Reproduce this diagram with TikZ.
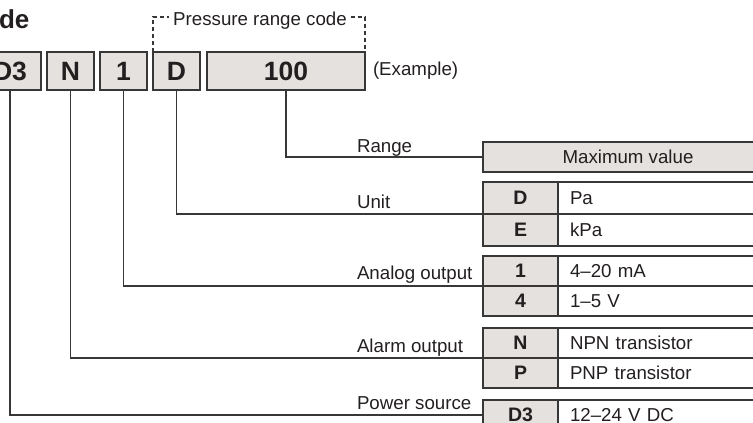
\documentclass[tikz,border=0pt]{standalone}
\usepackage{fontspec}
\setmainfont{Liberation Sans}
\usetikzlibrary{positioning}
\definecolor{boxgray}{RGB}{229,225,222}
\definecolor{linegray}{RGB}{55,55,55}
\definecolor{txtgray}{RGB}{35,31,32}

\begin{document}
\begin{tikzpicture}[x=1pt, y=-1pt,
  every node/.style={text=txtgray, outer sep=0pt},
  cbox/.style={draw=linegray, fill=boxgray, line width=1.3pt, minimum height=38pt,
               inner sep=0pt, font=\fontsize{26.5}{26.5}\selectfont\bfseries},
  code/.style={draw=linegray, fill=boxgray, line width=1.3pt, minimum width=75pt,
               inner sep=0pt, font=\fontsize{19.5}{21}\selectfont\bfseries},
  desc/.style={draw=linegray, fill=white, line width=1.3pt, text width=191pt,
               inner xsep=12pt, inner ysep=0pt, align=left, font=\fontsize{18.7}{21}\selectfont},
  lbl/.style={anchor=base west, inner sep=0pt, font=\fontsize{18.7}{21}\selectfont},
  conn/.style={draw=linegray, line width=1.2pt},
  brk/.style={draw=linegray, line width=1.1pt, dash pattern=on 4pt off 3pt}]

\useasboundingbox (0,0) rectangle (753,423);
\clip (0,0) rectangle (753,423);

%% --- title ---
\node[anchor=base west, inner sep=0pt, font=\fontsize{26}{26}\selectfont\bfseries] (title) at (-1,28) {de};

%% --- code boxes ---
\node[cbox, minimum width=62pt]  (cD3)  at (10,71)    {D3};
\node[cbox, minimum width=47pt]  (cN)   at (70.5,71)  {N};
\node[cbox, minimum width=47pt]  (c1)   at (123.5,71) {1};
\node[cbox, minimum width=47pt]  (cD)   at (176.5,71) {D};
\node[cbox, minimum width=158pt] (c100) at (286,71)   {100};
\node[right=8pt of c100, inner sep=0pt, font=\fontsize{18.7}{21}\selectfont] (ex) {(Example)};

%% --- pressure range bracket ---
\node[anchor=base, inner xsep=4pt, inner ysep=0pt, font=\fontsize{18.7}{21}\selectfont] (prc) at (260,25) {Pressure range code};
\coordinate (brtop) at (0,17);
\draw[brk] (cD.north west) |- (prc.west |- brtop);
\draw[brk] (prc.east |- brtop) -| (c100.north east);

%% --- range ---
\node[draw=linegray, fill=boxgray, line width=1.3pt, minimum width=290pt, minimum height=30pt,
      anchor=north west, font=\fontsize{18.7}{21}\selectfont] (rng) at (483,142) {Maximum value};

%% --- unit ---
\node[code, minimum height=32pt, anchor=north west] (uD) at (483,182) {D};
\node[desc, minimum height=32pt, right=0pt of uD] (uDt) {Pa};
\node[code, minimum height=32pt, below=0pt of uD] (uE) {E};
\node[desc, minimum height=32pt, right=0pt of uE] (uEt) {kPa};

%% --- analog output ---
\node[code, minimum height=30pt, anchor=north west] (a1) at (483,256) {1};
\node[desc, minimum height=30pt, right=0pt of a1] (a1t) {4--20 mA};
\node[code, minimum height=30pt, below=0pt of a1] (a4) {4};
\node[desc, minimum height=30pt, right=0pt of a4] (a4t) {1--5 V};

%% --- alarm output ---
\node[code, minimum height=30pt, anchor=north west] (aN) at (483,328) {N};
\node[desc, minimum height=30pt, right=0pt of aN] (aNt) {NPN transistor};
\node[code, minimum height=30pt, below=0pt of aN] (aP) {P};
\node[desc, minimum height=30pt, right=0pt of aP] (aPt) {PNP transistor};

%% --- power source ---
\node[code, minimum height=30pt, anchor=north west] (pD3) at (483,400) {D3};
\node[desc, minimum height=30pt, right=0pt of pD3] (pD3t) {12--24 V DC};

%% --- labels ---
\node[lbl] (lRange) at (357,152) {Range};
\node[lbl] (lUnit)  at (357,208) {Unit};
\node[lbl] (lAna)   at (357,279) {Analog output};
\node[lbl] (lAla)   at (357,352) {Alarm output};
\node[lbl] (lPow)   at (357,409) {Power source};

%% --- connectors ---
\draw[conn] (c100.south) |- (rng.west);
\draw[conn] (cD.south)   |- (uD.south west);
\draw[conn] (c1.south)   |- (a1.south west);
\draw[conn] (cN.south)   |- (aN.south west);
\draw[conn] (cD3.south)  |- (pD3.west);
\end{tikzpicture}
\end{document}
